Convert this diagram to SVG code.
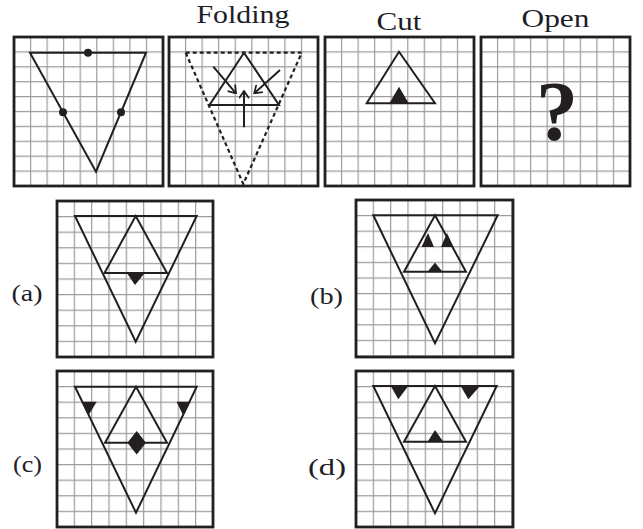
<svg xmlns="http://www.w3.org/2000/svg" width="643" height="529" viewBox="0 0 643 529">
  <defs>
    <pattern id="gridT" patternUnits="userSpaceOnUse" x="-0.6" y="-0.6" width="16.556" height="14.9">
      <path d="M0.6,0 V14.9 M0,0.6 H16.556" stroke="#9c9c9c" stroke-width="1.2" fill="none"/>
    </pattern>
    <pattern id="gridA" patternUnits="userSpaceOnUse" x="-0.6" y="-0.6" width="17.333" height="15.6">
      <path d="M0.6,0 V15.6 M0,0.6 H17.333" stroke="#9c9c9c" stroke-width="1.2" fill="none"/>
    </pattern>
    <marker id="arr" markerUnits="userSpaceOnUse" viewBox="0 0 10 10" refX="9" refY="5" markerWidth="11" markerHeight="11" orient="auto">
      <path d="M2.5,0.5 L9,5 L2.5,9.5" fill="none" stroke="#231f20" stroke-width="1.6"/>
    </marker>
  </defs>
  <style>
    .frame { fill: none; stroke: #231f20; stroke-width: 2.8; }
    .tri { fill: none; stroke: #231f20; stroke-width: 2; stroke-linejoin: miter; }
    .dash { fill: none; stroke: #231f20; stroke-width: 2.2; stroke-dasharray: 4 3; }
    .cut { fill: #231f20; stroke: none; }
    .lbl { font-family: "Liberation Serif", "DejaVu Serif", serif; fill: #1e1e28; }
    .head { font-size: 26px; }
    .opt { font-size: 24px; }
    .q { font-family: "Liberation Serif", "DejaVu Serif", serif; font-weight: bold; font-size: 84px; fill: #231f20; }
  </style>
  <rect width="643" height="529" fill="#ffffff"/>

  <!-- headings -->
  <text class="lbl head" x="196.5" y="22.7" textLength="93" lengthAdjust="spacingAndGlyphs">Folding</text>
  <text class="lbl head" x="376.5" y="30" textLength="45" lengthAdjust="spacingAndGlyphs">Cut</text>
  <text class="lbl head" x="521.5" y="27" textLength="68" lengthAdjust="spacingAndGlyphs">Open</text>

  <!-- Box 1: original sheet -->
  <g id="sheet" transform="translate(14,37)">
    <rect width="149" height="149" fill="url(#gridT)"/>
    <rect class="frame" width="149" height="149"/>
    <polygon class="tri" points="16,15.7 132,15.7 82,134.7"/>
    <circle cx="74" cy="15.7" r="4" fill="#231f20"/>
    <circle cx="49" cy="75.2" r="4" fill="#231f20"/>
    <circle cx="107" cy="75.2" r="4" fill="#231f20"/>
  </g>

  <!-- Box 2: folding -->
  <g id="folding" transform="translate(169,37)">
    <rect width="149" height="149" fill="url(#gridT)"/>
    <rect class="frame" width="149" height="149"/>
    <polygon class="dash" points="16.7,15.7 132.7,15.7 74.3,147"/>
    <polygon class="tri" points="75,15.7 110,68 40.5,68"/>
    <g id="connectors">
      <line x1="44.3" y1="29.7" x2="67" y2="56.3" stroke="#231f20" stroke-width="2" marker-end="url(#arr)"/>
      <line x1="111" y1="33" x2="85.3" y2="56.3" stroke="#231f20" stroke-width="2" marker-end="url(#arr)"/>
      <line x1="75" y1="90.3" x2="75" y2="54" stroke="#231f20" stroke-width="2" marker-end="url(#arr)"/>
    </g>
  </g>

  <!-- Box 3: cut -->
  <g id="cut" transform="translate(325,37)">
    <rect width="149" height="149" fill="url(#gridT)"/>
    <rect class="frame" width="149" height="149"/>
    <polygon class="tri" points="74,14.7 110,66.3 41.7,66.3"/>
    <polygon class="cut" points="74,49.7 83.5,66 64.5,66"/>
  </g>

  <!-- Box 4: open -->
  <g id="open" transform="translate(481,37)">
    <rect width="149" height="149" fill="url(#gridT)"/>
    <rect class="frame" width="149" height="149"/>
    <text class="q" x="76" y="103" text-anchor="middle">?</text>
  </g>

  <!-- Option (a) -->
  <text class="lbl opt" x="11.5" y="301" textLength="31" lengthAdjust="spacingAndGlyphs">(a)</text>
  <g id="option-a" transform="translate(57,201)">
    <rect width="156" height="156" fill="url(#gridA)"/>
    <rect class="frame" width="156" height="156"/>
    <polygon class="tri" points="18,15 139.7,15 78.7,140.7"/>
    <polygon class="tri" points="78.7,15 110,72 47.5,72"/>
    <polygon class="cut" points="69.7,71.7 88,71.7 78,84"/>
  </g>

  <!-- Option (b) -->
  <text class="lbl opt" x="310" y="304" textLength="33" lengthAdjust="spacingAndGlyphs">(b)</text>
  <g id="option-b" transform="translate(356,200)">
    <rect width="157" height="157" fill="url(#gridA)"/>
    <rect class="frame" width="157" height="157"/>
    <polygon class="tri" points="17.3,15.3 141.7,15.3 79,143.3"/>
    <polygon class="tri" points="79,15.3 110,71.7 48,71.7"/>
    <polygon class="cut" points="72,33 78,47 65.5,47"/>
    <polygon class="cut" points="91,33 97.5,47 85,47"/>
    <polygon class="cut" points="79,62.5 86.5,71.7 71.5,71.7"/>
  </g>

  <!-- Option (c) -->
  <text class="lbl opt" x="13" y="472" textLength="29" lengthAdjust="spacingAndGlyphs">(c)</text>
  <g id="option-c" transform="translate(57,371)">
    <rect width="156" height="156" fill="url(#gridA)"/>
    <rect class="frame" width="156" height="156"/>
    <polygon class="tri" points="18,15.7 139.7,15.7 79,141.7"/>
    <polygon class="tri" points="79,15.7 110,71.7 48,71.7"/>
    <polygon class="cut" points="79.7,60 89,71.7 79.7,83.4 70.4,71.7"/>
    <polygon class="cut" points="25,30.7 39.7,30.7 31.7,44"/>
    <polygon class="cut" points="119.5,30.7 133.5,30.7 126,44"/>
  </g>

  <!-- Option (d) -->
  <text class="lbl opt" x="308" y="475" textLength="38" lengthAdjust="spacingAndGlyphs">(d)</text>
  <g id="option-d" transform="translate(356,371)">
    <rect width="157" height="156" fill="url(#gridA)"/>
    <rect class="frame" width="157" height="156"/>
    <polygon class="tri" points="17.3,15 140.7,15 79,142.3"/>
    <polygon class="tri" points="79,15 110,70.7 48,70.7"/>
    <polygon class="cut" points="34.7,15 52.3,15 42.3,28.3"/>
    <polygon class="cut" points="104.7,15 124,15 112.3,28.3"/>
    <polygon class="cut" points="79,59 87.3,70.7 71.7,70.7"/>
  </g>
</svg>
